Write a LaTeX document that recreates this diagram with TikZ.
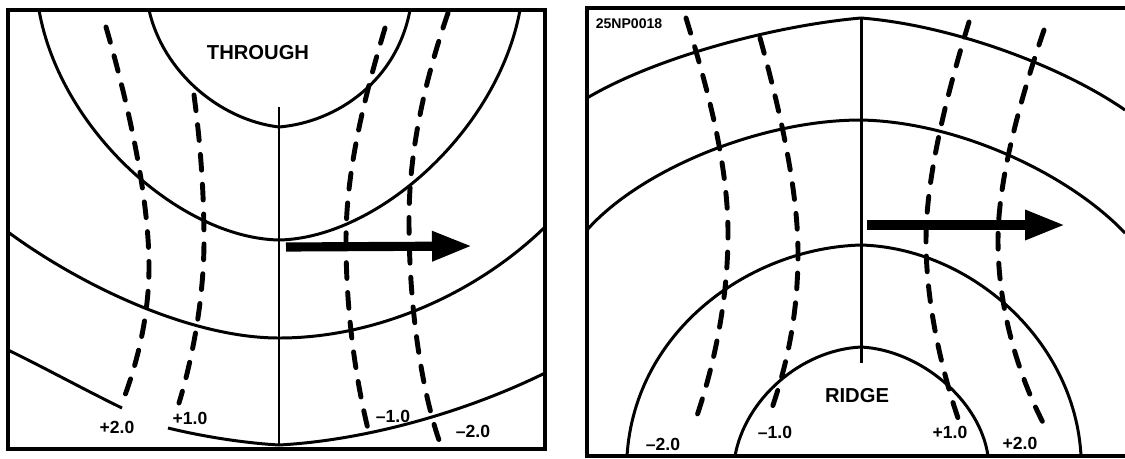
\documentclass[tikz,border=0pt]{standalone}
\usepackage{fontspec}
\setmainfont{Liberation Sans}
\usetikzlibrary{arrows.meta}

\begin{document}
\begin{tikzpicture}[x=0.02cm, y=-0.02cm,
    frame/.style={line width=2pt},
    contour/.style={line width=1.7pt, line join=round},
    isoline/.style={line width=2.8pt, line cap=round, dash pattern=on 9pt off 8pt},
    motion/.style={line width=5.2pt, -{Triangle[length=0.8cm, width=0.56cm]}},
    lbl/.style={font=\fontsize{10}{12}\selectfont\bfseries, inner sep=0pt},
    title/.style={font=\fontsize{11.5}{13}\selectfont\bfseries, inner sep=0pt}]
  \useasboundingbox (0,0) rectangle (1125,458);

  % trough
  \draw[frame] (8,10) rectangle (545,449);
  \draw[contour] (149,10) .. controls (163,72) and (220,120) .. (279,127);
  \draw[contour] (279,127) .. controls (338,122) and (397,80) .. (410,10);
  \draw[contour] (39,10) .. controls (60,130) and (180,238) .. (279,240);
  \draw[contour] (279,240) .. controls (378,238) and (498,130) .. (520,10);
  \draw[contour] (8,232) .. controls (80,285) and (190,338) .. (279,338);
  \draw[contour] (279,338) .. controls (375,338) and (475,295) .. (545,227);
  \draw[contour] (8,350) .. controls (45,368) and (85,390) .. (122,408);
  \draw[contour] (168,428) .. controls (205,437) and (245,443) .. (279,445);
  \draw[contour] (279,445) .. controls (370,440) and (470,410) .. (545,373);
  \draw[contour] (279,107) -- (279,445);
  \draw[isoline] (106,27) .. controls (130,110) and (149,200) .. (149,267)
                 .. controls (149,320) and (135,370) .. (122,403);
  \draw[isoline] (194,95) .. controls (200,140) and (204,190) .. (204,240)
                 .. controls (204,300) and (192,360) .. (179,403);
  \draw[isoline] (385,28) .. controls (365,95) and (346,170) .. (346,240)
                 .. controls (346,320) and (358,390) .. (369,433);
  \draw[isoline] (448,13) .. controls (425,80) and (409,150) .. (409,220)
                 .. controls (409,320) and (425,400) .. (439,440);
  \draw[motion] (286,247) -- (472,246);
  \node[title] (through) at (258,53) {THROUGH};
  \node[lbl] (tp2) at (117,427) {+2.0};
  \node[lbl] (tp1) at (190,418) {+1.0};
  \node[lbl] (tm1) at (393,416) {–1.0};
  \node[lbl] (tm2) at (473,431) {–2.0};

  % ridge
  \draw[frame] (1127,8) -- (587,8) -- (587,456) -- (1127,456);
  \draw[contour] (587,98) .. controls (660,55) and (780,25) .. (861,18);
  \draw[contour] (861,18) .. controls (950,25) and (1060,65) .. (1125,110);
  \draw[contour] (587,230) .. controls (640,170) and (760,120) .. (861,120);
  \draw[contour] (861,120) .. controls (960,122) and (1070,175) .. (1125,233);
  \draw[contour] (627,456) .. controls (635,330) and (750,248) .. (861,245);
  \draw[contour] (861,245) .. controls (970,248) and (1075,340) .. (1081,456);
  \draw[contour] (735,456) .. controls (745,400) and (800,350) .. (861,347);
  \draw[contour] (861,347) .. controls (920,350) and (980,400) .. (988,456);
  \draw[contour] (861,18) -- (861,363);
  \draw[isoline] (686,18) .. controls (705,80) and (728,160) .. (728,233)
                 .. controls (728,310) and (710,380) .. (693,427);
  \draw[isoline] (760,38) .. controls (780,110) and (798,190) .. (798,253)
                 .. controls (798,320) and (785,370) .. (772,408);
  \draw[isoline] (969,22) .. controls (945,100) and (926,180) .. (926,240)
                 .. controls (926,310) and (945,380) .. (958,418);
  \draw[isoline] (1044,30) .. controls (1020,100) and (998,180) .. (998,240)
                 .. controls (998,320) and (1025,390) .. (1047,430);
  \draw[motion] (867,225) -- (1065,225);
  \node[lbl, font=\fontsize{8}{10}\selectfont\bfseries] (figid) at (629,24) {25NP0018};
  \node[title] (ridge) at (857,396) {RIDGE};
  \node[lbl] (rm2) at (663,444) {–2.0};
  \node[lbl] (rm1) at (775,432) {–1.0};
  \node[lbl] (rp1) at (950,432) {+1.0};
  \node[lbl] (rp2) at (1020,443) {+2.0};
\end{tikzpicture}
\end{document}
